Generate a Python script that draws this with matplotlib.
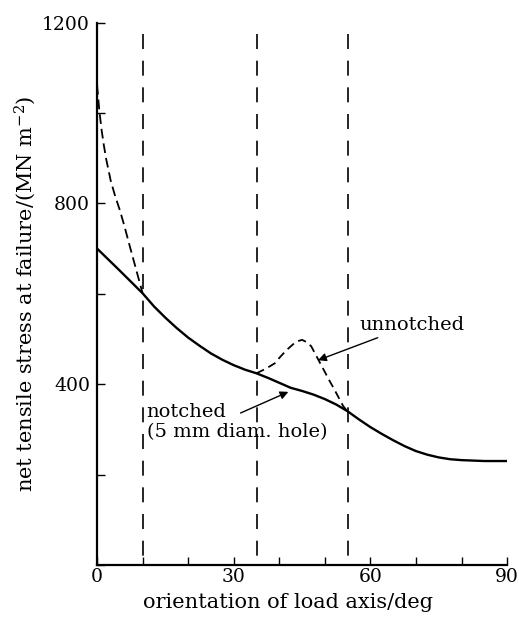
import matplotlib
matplotlib.use("Agg")
import matplotlib.pyplot as plt
from matplotlib.ticker import MultipleLocator

# notched specimen (5 mm hole), solid curve
notched_deg = [0, 5, 10, 12.5, 15, 17.5, 20, 22.5, 25, 27.5, 30, 32.5, 35, 37.5, 40, 42.5,
               45, 47.5, 50, 52.5, 55, 57.5, 60, 62.5, 65, 67.5, 70, 72.5, 75, 77.5, 80, 85, 90]
notched_mpa = [700, 651, 601, 572, 547, 524, 503, 485, 468, 454, 442, 432, 424, 414, 403, 392,
               385, 377, 367, 355, 340, 322, 305, 290, 276, 263, 252, 244, 238, 234, 232, 230, 230]

# unnotched specimen, dashed curve (two pieces off the notched curve)
unnotched_low_deg = [0, 0.5, 1, 1.5, 2, 3, 4, 5, 6, 7, 8, 9, 10]
unnotched_low_mpa = [1062, 1005, 962, 928, 898, 850, 815, 785, 750, 712, 675, 638, 601]
unnotched_mid_deg = [35, 37, 39, 40, 41, 42, 43, 44, 45, 46, 47, 48, 49, 50, 51, 52, 53, 54, 55]
unnotched_mid_mpa = [424, 434, 446, 458, 469, 479, 488, 495, 498, 493, 484, 465, 446, 427, 408,
                     390, 371, 352, 339]

# vertical dashed marker lines
marker_deg = [10, 35, 55]
marker_top = 1175

plt.rcParams['font.family'] = 'DejaVu Serif'
plt.rcParams['lines.scale_dashes'] = False
plt.rcParams['mathtext.fontset'] = 'dejavuserif'

fig = plt.figure(figsize=(5.19, 6.2), dpi=100)
ax = fig.add_axes([0.187, 0.0887, 0.790, 0.875])

ax.plot(notched_deg, notched_mpa, color='black', lw=1.7, solid_capstyle='butt')
ax.plot(unnotched_low_deg, unnotched_low_mpa, color='black', lw=1.3, dashes=(7, 3.6))
ax.plot(unnotched_mid_deg, unnotched_mid_mpa, color='black', lw=1.3, dashes=(6, 3.6))
for xd in marker_deg:
    ax.plot([xd, xd], [marker_top, 0], color='black', lw=1.2, dashes=(10.8, 8.4))

ax.set_xlim(0, 90)
ax.set_ylim(0, 1200)
ax.xaxis.set_major_locator(MultipleLocator(30))
ax.xaxis.set_minor_locator(MultipleLocator(10))
ax.yaxis.set_minor_locator(MultipleLocator(200))
ax.set_yticks([400, 800, 1200])
ax.tick_params(which='both', direction='in', length=6, width=1.0, labelsize=13.5)
ax.tick_params(axis='x', pad=2)
ax.tick_params(axis='y', pad=5)

for side in ['top', 'right']:
    ax.spines[side].set_visible(False)
for side in ['left', 'bottom']:
    ax.spines[side].set_linewidth(1.6)

ax.set_xlabel('orientation of load axis/deg', fontsize=15)
ax.xaxis.set_label_coords(0.466, -0.052)
ax.set_ylabel('net tensile stress at failure/(MN m$^{-2}$)', fontsize=15, labelpad=3)

ax.annotate('unnotched', xy=(48.5, 453), xytext=(57.5, 531), fontsize=14,
            va='center', ha='left',
            arrowprops=dict(arrowstyle='-|>', color='black', lw=1.0,
                            shrinkA=2, shrinkB=0, mutation_scale=12))
ax.annotate('notched\n(5 mm diam. hole)', xy=(42, 383), xytext=(10.9, 316),
            fontsize=14, va='center', ha='left', linespacing=1.15,
            arrowprops=dict(arrowstyle='-|>', color='black', lw=1.0,
                            shrinkA=0, shrinkB=0, mutation_scale=12,
                            patchA=None, relpos=(0.52, 0.74)))

fig.savefig('out.png', dpi=100)
